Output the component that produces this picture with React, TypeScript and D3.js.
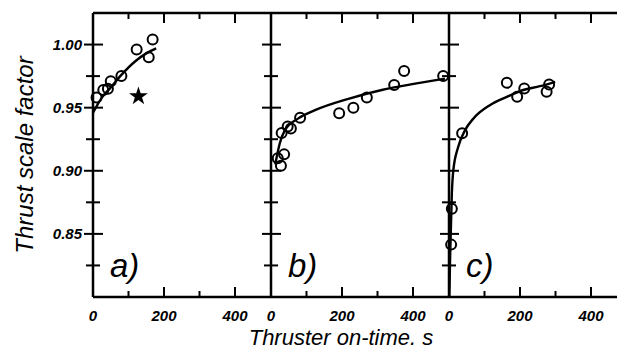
import React from "react";
import * as d3 from "d3";

// panel a)
const aTime = [10, 29, 42, 50, 80, 123, 157, 168];
const aFactor = [0.958, 0.964, 0.965, 0.971, 0.975, 0.996, 0.99, 1.004];
const aFitTime = [0, 25, 50, 80, 120, 150, 178];
const aFitFactor = [0.946, 0.958, 0.966, 0.976, 0.987, 0.993, 0.997];
const aStarTime = [128];
const aStarFactor = [0.959];

// panel b)
const bTime = [19, 28, 37, 30, 47, 56, 82, 192, 232, 270, 347, 375, 485];
const bFactor = [0.91, 0.904, 0.913, 0.93, 0.935, 0.9335, 0.942, 0.9455, 0.95, 0.958, 0.968, 0.979, 0.975];
const bFitTime = [12, 25, 39, 77, 124, 218, 312, 406, 490];
const bFitFactor = [0.905, 0.922, 0.932, 0.9415, 0.948, 0.957, 0.964, 0.969, 0.973];

// panel c)
const cTime = [6, 8, 37, 163, 192, 212, 275, 282];
const cFactor = [0.8415, 0.87, 0.9297, 0.9697, 0.9586, 0.9652, 0.9626, 0.9684];
const cFitTime = [1, 3, 8, 12, 26, 45, 69, 115, 163, 209, 256, 299];
const cFitFactor = [0.8, 0.83, 0.882, 0.9, 0.919, 0.932, 0.9415, 0.952, 0.9586, 0.964, 0.967, 0.9705];

const panelLabels = ["a)", "b)", "c)"];
const xMajor = [0, 200, 400];
const xMinor = [100, 300];
const yMajor = [0.85, 0.9, 0.95, 1.0];
const yMinor = [0.825, 0.875, 0.925, 0.975];

const W = 617;
const H = 350;
const top = 13;
const bottom = 297;
const panelLeft = [93, 271, 449];
const panelWidth = 177.5;
const font = "'Liberation Sans', Arial, sans-serif";

const panels = [
  { t: aTime, f: aFactor, ft: aFitTime, ff: aFitFactor },
  { t: bTime, f: bFactor, ft: bFitTime, ff: bFitFactor },
  { t: cTime, f: cFactor, ft: cFitTime, ff: cFitFactor },
];

export default function App() {
  const y = d3.scaleLinear().domain([0.8, 1.025]).range([bottom, top]);
  const fmt = d3.format(".2f");
  const star = d3.symbol(d3.symbolStar, 110)();
  const rightEdge = panelLeft[2] + panelWidth;

  return (
    <svg
      width={W}
      height={H}
      style={{ position: "absolute", left: 0, top: 0, background: "#fff" }}
      fontFamily={font}
    >
      {panels.map((p, i) => {
        const x = d3.scaleLinear().domain([0, 500]).range([panelLeft[i], panelLeft[i] + panelWidth]);
        const line = d3
          .line<number>()
          .x((d) => x(d))
          .y((_, j) => y(p.ff[j]))
          .curve(d3.curveMonotoneX);
        return (
          <g key={i}>
            <path d={line(p.ft) ?? ""} fill="none" stroke="#000" strokeWidth={2.4} />
            {p.t.map((t, j) => (
              <circle key={j} cx={x(t)} cy={y(p.f[j])} r={5} fill="none" stroke="#000" strokeWidth={2} />
            ))}
            {i === 0 &&
              aStarTime.map((t, j) => (
                <path key={j} d={star ?? ""} transform={`translate(${x(t)},${y(aStarFactor[j])})`} fill="#000" />
              ))}
            {/* x ticks: bottom up, top down */}
            {xMajor.concat(xMinor).map((v) => {
              const len = xMajor.includes(v) ? 10 : 6;
              return (
                <g key={v}>
                  <line x1={x(v)} x2={x(v)} y1={bottom} y2={bottom - len} stroke="#000" strokeWidth={2} />
                  <line x1={x(v)} x2={x(v)} y1={top} y2={top + len} stroke="#000" strokeWidth={2} />
                </g>
              );
            })}
            {xMajor.map((v) => (
              <text key={v} x={x(v)} y={321} textAnchor="middle" fontSize={15} fontWeight="bold" fontStyle="italic">
                {v}
              </text>
            ))}
            <text x={panelLeft[i] + 17} y={277} fontSize={33} fontStyle="italic">
              {panelLabels[i]}
            </text>
          </g>
        );
      })}

      {/* vertical axes with crossing ticks */}
      {panelLeft.concat([rightEdge]).map((px, k) => (
        <g key={k}>
          <line x1={px} x2={px} y1={top} y2={bottom} stroke="#000" strokeWidth={2.5} />
          {yMajor.map((v) => (
            <line key={v} x1={px - 9} x2={px + 10} y1={y(v)} y2={y(v)} stroke="#000" strokeWidth={2} />
          ))}
          {yMinor.map((v) => (
            <line key={v} x1={px - 7} x2={px + 7} y1={y(v)} y2={y(v)} stroke="#000" strokeWidth={2} />
          ))}
        </g>
      ))}
      <line x1={panelLeft[0]} x2={W + 20} y1={top} y2={top} stroke="#000" strokeWidth={2.5} />
      <line x1={panelLeft[0]} x2={W + 20} y1={bottom} y2={bottom} stroke="#000" strokeWidth={2.5} />

      {yMajor.map((v) => (
        <text key={v} x={82} y={y(v) + 5} textAnchor="end" fontSize={15} fontWeight="bold" fontStyle="italic">
          {fmt(v)}
        </text>
      ))}

      <text x={341} y={345} textAnchor="middle" fontSize={22} fontStyle="italic">
        Thruster on-time. s
      </text>
      <text transform="translate(33,155) rotate(-90)" textAnchor="middle" fontSize={24} fontStyle="italic">
        Thrust scale factor
      </text>
    </svg>
  );
}
